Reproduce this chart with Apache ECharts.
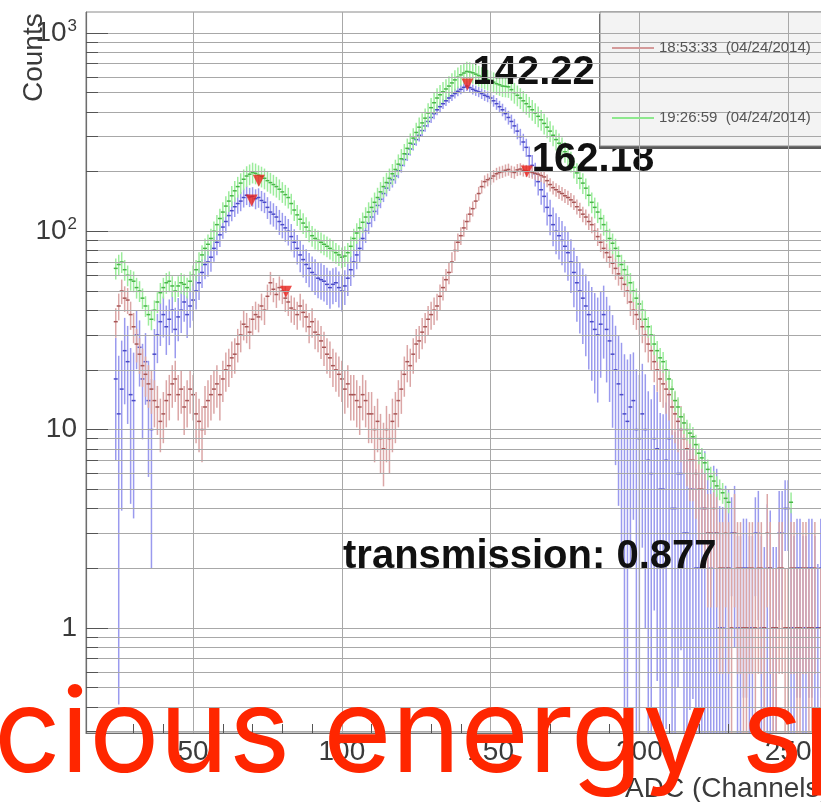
<!DOCTYPE html>
<html>
<head>
<meta charset="utf-8">
<script src="https://cdn.jsdelivr.net/npm/echarts@6/dist/echarts.min.js"></script>
<style>
  html, body { margin: 0; padding: 0; background: #ffffff; }
  #chart { width: 821px; height: 802px; }
</style>
</head>
<body>
<div id="chart"></div>
<script>
// Histogram binning (ADC channels, one bin per channel)
const firstChannel = 24;
const channelStep = 1;

// Run 18:53:33 (04/24/2014), counts per channel 24..263
const counts1853 = [
  35, 42, 50, 46, 45, 38, 33, 27, 24, 21,
  19, 17, 16, 14, 13, 11, 12, 14, 15, 17,
  18, 15, 16, 13, 14, 16, 15, 12, 11, 10,
  13, 14, 15, 16, 17, 15, 18, 20, 21, 23,
  24, 27, 30, 34, 33, 31, 36, 38, 37, 42,
  40, 47, 55, 51, 48, 52, 50, 46, 44, 41,
  40, 38, 42, 39, 37, 33, 35, 31, 30, 28,
  26, 24, 23, 21, 20, 19, 18, 16, 17, 15,
  15, 14, 13, 15, 14, 12, 12, 10, 11, 9,
  8, 10, 9, 11, 12, 14, 16, 19, 22, 21,
  24, 27, 28, 31, 33, 36, 38, 40, 42, 47,
  52, 57, 62, 70, 80, 88, 95, 104, 112, 122,
  130, 142, 155, 168, 178, 182, 185, 190, 195, 198,
  200, 203, 205, 200, 198, 204, 206, 203, 202, 200,
  198, 196, 194, 191, 188, 180, 172, 166, 162, 158,
  155, 151, 148, 144, 140, 133, 128, 122, 118, 112,
  108, 100, 94, 88, 82, 78, 74, 69, 65, 61,
  58, 54, 50, 44, 40, 38, 36, 33, 30, 27,
  25, 22, 20, 18, 17, 16, 15, 13, 12, 11,
  10, 9, 8, 7, 7, 6, 5, 5, 4, 3,
  3, 4, 3, 2, 2, 3, 2, 1, 3, 2,
  2, 1, 1, 2, 2, 1, 2, 2, 1, 3,
  2, 1, 1, 2, 2, 1, 1, 2, 2, 1,
  1, 2, 2, 1, 1, 2, 0, 1, 1, 2
];

// Run 19:26:59 (04/24/2014), counts per channel 24..263
const counts1926 = [
  65, 68, 70, 64, 60, 57, 56, 52, 50, 46,
  42, 38, 36, 40, 44, 49, 52, 55, 56, 53,
  50, 53, 55, 54, 52, 56, 60, 64, 70, 76,
  82, 86, 92, 100, 108, 116, 125, 134, 142, 151,
  160, 168, 175, 183, 190, 194, 198, 196, 192, 189,
  185, 180, 176, 172, 168, 163, 158, 153, 148, 138,
  128, 121, 115, 110, 105, 100, 95, 92, 90, 88,
  86, 84, 82, 80, 78, 76, 74, 75, 78, 84,
  92, 98, 104, 111, 118, 125, 132, 140, 148, 158,
  168, 176, 185, 195, 205, 218, 232, 246, 262, 278,
  295, 315, 335, 352, 372, 395, 420, 445, 470, 488,
  505, 522, 540, 560, 580, 598, 615, 628, 640, 636,
  630, 620, 610, 600, 590, 582, 575, 565, 555, 548,
  540, 538, 535, 518, 500, 485, 470, 455, 440, 425,
  410, 395, 380, 365, 350, 335, 320, 305, 290, 278,
  265, 252, 240, 225, 210, 197, 185, 175, 165, 152,
  140, 132, 125, 116, 108, 100, 92, 87, 82, 75,
  68, 64, 60, 55, 50, 46, 43, 40, 36, 33,
  30, 27, 25, 23, 22, 20, 18, 16, 14, 13,
  11.6, 10.8, 10, 9.6, 9.2, 8.4, 7.6, 7.2, 6.8, 6.3,
  5.8, 5.5, 5.2, 5, 4.8, 4.5, 4.3, 0, 0, 0,
  0, 0, 0, 0, 0, 0, 0, 0, 0, 0,
  0, 0, 0, 0, 0, 0, 0, 4.3, 0, 0,
  0, 0, 0, 0, 0, 0, 0, 0, 0, 0
];

// Net spectrum per channel 24..263
const countsNet = [
  18, 12, 16, 25, 22, 15, 14, 30, 26, 18,
  22, 14, 10, 24, 30, 35, 38, 33, 36, 40,
  32, 37, 40, 44, 38, 42, 45, 50, 55, 62,
  68, 70, 74, 82, 88, 96, 105, 112, 120, 127,
  133, 138, 142, 148, 152, 149, 150, 146, 148, 143,
  140, 132, 125, 122, 118, 112, 108, 104, 100, 94,
  88, 82, 76, 72, 68, 65, 62, 60, 58, 57,
  56, 54, 52, 54, 55, 52, 50, 53, 58, 64,
  70, 76, 82, 92, 100, 110, 118, 126, 135, 145,
  155, 165, 175, 182, 190, 202, 215, 230, 245, 260,
  275, 290, 305, 322, 340, 358, 375, 392, 410, 425,
  440, 455, 470, 482, 495, 508, 520, 532, 540, 530,
  520, 512, 505, 495, 485, 478, 470, 455, 440, 425,
  410, 392, 375, 358, 340, 320, 300, 282, 265, 240,
  215, 195, 178, 162, 150, 132, 120, 108, 100, 95,
  90, 84, 78, 70, 62, 55, 50, 46, 42, 38,
  35, 32, 30, 34, 38, 32, 28, 24, 20, 17,
  15, 12, 11, 13, 14, 10, 9, 12, 10, 7,
  6, 9, 8, 5, 5, 7, 9, 4, 4, 6,
  6, 3, 3, 5, 5, 2, 2, 4, 4, 3,
  2, 3, 3, 1, 1, 2, 2, 3, 3, 1,
  1, 2, 2, 1, 1, 3, 3, 1, 1, 2,
  2, 1, 1, 3, 3, 4, 4, 1, 1, 2,
  2, 1, 1, 2, 2, 1, 1, 2, 2, 1
];

// Found peaks
const mainPeakX = [142.22, 162.18];
const mainPeakY = [550, 200];
const sidePeakX = [72.1, 69.7, 81.2];
const sidePeakY = [180, 143, 49.5];

// Axis ticks
const xMajorTicks = [50, 100, 150, 200, 250];
const xMinorTicks = [20, 30, 40, 60, 70, 80, 90, 110, 120, 130, 140, 160, 170, 180, 190, 210, 220, 230, 240, 260];

const X_MIN = 14, X_MAX = 270;
const Y_MIN = 0.295, Y_MAX = 1276;
const PX_PER_CH = 2.975;
const PX_PER_DECADE = 198.3;

const channels = counts1853.map((_, i) => firstChannel + i * channelStep);

// y values of the log grid: 1..9 x 10^k inside the axis range
const yGrid = [];
[0.1, 1, 10, 100, 1000].forEach(d => {
  for (let k = 1; k <= 9; k++) {
    const v = +(k * d).toPrecision(3);
    if (v >= Y_MIN && v <= Y_MAX) yGrid.push(v);
  }
});
const yDecades = yGrid.filter(v => Math.abs(Math.log10(v) - Math.round(Math.log10(v))) < 1e-9);

function buildBins(values, errFn) {
  const out = [];
  values.forEach((v, i) => {
    if (v > 0) out.push([channels[i], v, errFn(v, i)]);
  });
  return out;
}

const bins1853 = buildBins(counts1853, v => Math.sqrt(v));
const bins1926 = buildBins(counts1926, v => 0.12 * v);
const binsNet = buildBins(countsNet, (v, i) => 1.1 * Math.sqrt(counts1926[i] + counts1853[i] + 1));

function errorBars(barColor, centerColor) {
  return function (params, api) {
    const x = api.value(0), v = api.value(1), e = api.value(2);
    const lo = Math.max(v - e, Y_MIN * 0.9);
    const hi = v + e;
    const pc = api.coord([x, v]);
    const plo = api.coord([x, lo]);
    const phi = api.coord([x, hi]);
    const pl = api.coord([x - channelStep / 2, v]);
    const pr = api.coord([x + channelStep / 2, v]);
    return {
      type: 'group',
      children: [
        { type: 'line', shape: { x1: pc[0], y1: plo[1], x2: pc[0], y2: phi[1] },
          style: { stroke: barColor, lineWidth: 1.5 } },
        { type: 'line', shape: { x1: pl[0] - 0.5, y1: pc[1], x2: pr[0] + 0.5, y2: pc[1] },
          style: { stroke: centerColor, lineWidth: 1.5 } }
      ]
    };
  };
}

const NAME_1853 = '18:53:33  (04/24/2014)';
const NAME_1926 = '19:26:59  (04/24/2014)';

const tickLenMajorCh = 22 / PX_PER_CH;
const tickLenMinorCh = 12 / PX_PER_CH;
const xTickMinorTop = Y_MIN * Math.pow(10, 9 / PX_PER_DECADE);

const yTickSegments = yGrid.map(v => {
  const len = yDecades.indexOf(v) >= 0 ? tickLenMajorCh : tickLenMinorCh;
  return [{ coord: [X_MIN, v] }, { coord: [X_MIN + len, v] }];
});
const xTickSegments = xMinorTicks.map(c => [{ coord: [c, Y_MIN] }, { coord: [c, xTickMinorTop] }]);

const transmission = (mainPeakX[0] / mainPeakX[1]).toFixed(3);

const chart = echarts.init(document.getElementById('chart'), null, { renderer: 'canvas' });

chart.setOption({
  animation: false,
  backgroundColor: '#ffffff',
  textStyle: { fontFamily: 'Liberation Sans' },
  grid: {
    left: 86, top: 12, bottom: 69,
    right: 821 - 86 - (X_MAX - X_MIN) * PX_PER_CH,
    outerBoundsMode: 'none',
    containLabel: false,
    show: true, borderColor: '#8a8a8a', borderWidth: 1, backgroundColor: 'transparent'
  },
  xAxis: {
    type: 'value', min: X_MIN, max: X_MAX,
    axisLine: { show: true, lineStyle: { color: '#6e6e6e', width: 1.2 } },
    axisTick: { show: true, inside: true, length: 18, customValues: xMajorTicks,
      lineStyle: { color: '#555', width: 1 } },
    axisLabel: { customValues: xMajorTicks, fontSize: 28, color: '#3a3a3a', margin: 5,
      fontFamily: 'Liberation Sans' },
    splitLine: { show: false }
  },
  yAxis: {
    type: 'log', logBase: 10, min: Y_MIN, max: Y_MAX,
    axisLine: { show: true, lineStyle: { color: '#6e6e6e', width: 1.2 } },
    axisTick: { show: false },
    splitLine: { show: false },
    axisLabel: {
      margin: 9, color: '#3a3a3a', fontFamily: 'Liberation Sans',
      showMinLabel: false, showMaxLabel: false,
      formatter: function (v) {
        const lg = Math.log10(v);
        const e = Math.round(lg);
        if (Math.abs(lg - e) > 1e-6) return '';
        if (e >= 2) return '{b|10}{s|' + e + '}';
        return '{b|' + Math.pow(10, e) + '}';
      },
      rich: {
        b: { fontSize: 28, color: '#3a3a3a', fontFamily: 'Liberation Sans' },
        s: { fontSize: 17, color: '#3a3a3a', fontFamily: 'Liberation Sans', verticalAlign: 'top', padding: [0, 0, 14, 1] }
      }
    }
  },
  legend: {
    data: [NAME_1853, NAME_1926],
    orient: 'vertical',
    left: 607, top: 35,
    itemWidth: 42, itemHeight: 2, itemGap: 54,
    icon: 'rect',
    z: 6,
    textStyle: { fontSize: 15, color: '#555', fontFamily: 'Liberation Sans', lineHeight: 16 },
    selectedMode: false
  },
  graphic: [
    { type: 'rect', z: 5, shape: { x: 599, y: 14, width: 240, height: 135 }, style: { fill: '#5a5a5a' } },
    { type: 'rect', z: 5, shape: { x: 600, y: 12, width: 240, height: 134 },
      style: { fill: '#f3f3f3', stroke: '#8a8a8a', lineWidth: 1 } },
    { type: 'text', z: 8, rotation: Math.PI / 2, x: 34, y: 102,
      style: { text: 'Counts', fontSize: 28, fill: '#3a3a3a', fontFamily: 'Liberation Sans',
        align: 'left', verticalAlign: 'middle' } },
    { type: 'text', z: 8, x: 625, y: 789,
      style: { text: 'ADC (Channels)', fontSize: 28, fill: '#3a3a3a', fontFamily: 'Liberation Sans',
        align: 'left', verticalAlign: 'middle' } },
    { type: 'text', z: 8, x: 343, y: 557,
      style: { text: 'transmission: ' + transmission, fontSize: 40, fontWeight: 'bold', fill: '#111',
        fontFamily: 'Liberation Sans', align: 'left', verticalAlign: 'middle' } },
    { type: 'text', z: 20, x: -6, y: 737,
      style: { text: 'cious energy sp', fontSize: 117, fill: '#ff2600',
        fontFamily: 'Inter', align: 'left', verticalAlign: 'middle' } }
  ],
  series: [
    {
      name: 'grid', type: 'line', data: [], z: 1, silent: true,
      markLine: {
        silent: true, symbol: ['none', 'none'], animation: false, label: { show: false },
        lineStyle: { color: '#a8a8a8', width: 1, type: 'solid' },
        emphasis: { disabled: true },
        data: yGrid.map(v => ({ yAxis: v })).concat(xMajorTicks.map(c => ({ xAxis: c })))
      }
    },
    {
      name: 'ticks', type: 'line', data: [], z: 4, silent: true,
      markLine: {
        silent: true, symbol: ['none', 'none'], animation: false, label: { show: false },
        lineStyle: { color: '#555', width: 1, type: 'solid' },
        emphasis: { disabled: true },
        data: yTickSegments.concat(xTickSegments)
      }
    },
    {
      name: 'net', type: 'custom', clip: true, z: 2,
      itemStyle: { color: '#8f8fe8' },
      encode: { x: 0, y: 1 },
      renderItem: errorBars('#9a9aee', '#4a4ac8'),
      data: binsNet
    },
    {
      name: NAME_1853, type: 'custom', clip: true, z: 2,
      itemStyle: { color: '#d49a9a' },
      encode: { x: 0, y: 1 },
      renderItem: errorBars('#dba6a6', '#a85656'),
      data: bins1853
    },
    {
      name: NAME_1926, type: 'custom', clip: true, z: 2,
      itemStyle: { color: '#8ee88e' },
      encode: { x: 0, y: 1 },
      renderItem: errorBars('#9cec9c', '#48b848'),
      data: bins1926
    },
    {
      name: 'side peaks', type: 'scatter', z: 3,
      symbol: 'triangle', symbolRotate: 180, symbolSize: 12,
      itemStyle: { color: '#e8201c' },
      data: sidePeakX.map((x, i) => [x, sidePeakY[i]])
    },
    {
      name: 'main peaks', type: 'scatter', z: 3,
      symbol: 'triangle', symbolRotate: 180, symbolSize: 12,
      itemStyle: { color: '#e8201c' },
      label: {
        show: true, position: [11, 14], align: 'left', verticalAlign: 'bottom',
        fontSize: 40, fontWeight: 'bold', color: '#111', fontFamily: 'Liberation Sans',
        textBorderWidth: 0, opacity: 1,
        formatter: p => p.value[0].toFixed(2)
      },
      data: mainPeakX.map((x, i) => [x, mainPeakY[i]])
    }
  ]
});
</script>
</body>
</html>
